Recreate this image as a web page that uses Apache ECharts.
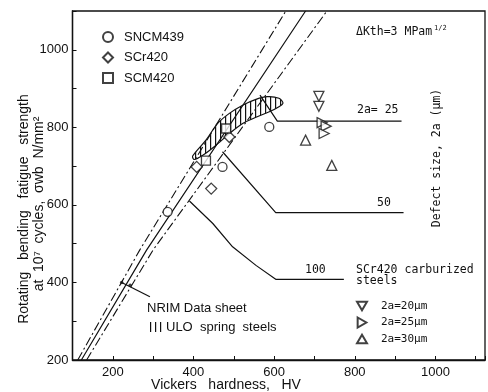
<!DOCTYPE html>
<html>
<head>
<meta charset="utf-8">
<script src="https://cdn.jsdelivr.net/npm/echarts@6/dist/echarts.min.js"></script>
<style>
  html, body { margin: 0; padding: 0; background: #fff; }
  #chart { width: 488px; height: 392px; }
</style>
</head>
<body>
<div id="chart"></div>
<script>
// tick labels
const hvLabels = [200, 400, 600, 800, 1000];
const sigmaLabels = [200, 400, 600, 800, 1000];

// [HV, fatigue strength N/mm2]
const sncm439 = [[336, 582], [472, 698], [588, 801]];
const scr420 = [[408, 698], [444, 642], [489, 775]];
const scm420 = [[431, 714], [481, 797]];
const tri20 = [[711, 880], [711, 854]];
const tri25 = [[719, 812], [729, 803], [724, 784]];
const tri30 = [[678, 767], [743, 702]];

// NRIM data sheet band
const nrimUpper = [[113, 200], [267, 484], [629, 1100]];
const nrimMid = [[122, 200], [284, 484], [678, 1100]];
const nrimLower = [[135, 200], [300, 484], [731, 1100]];
const nrimLeader = [[292, 363], [222, 400]];
const nrimArrows = [[222, 400], [243, 393]];

// defect size curves, SCr420 carburized
const curve25 = [[565, 883], [608, 816], [916, 816]];
const curve50 = [[472, 737], [604, 580], [921, 580]];
const curve100 = [[390, 610], [448, 552], [497, 492], [555, 444], [604, 408], [773, 408]];

// ULO spring steels (hatched area outline)
const uloOutline = [[398, 726], [431, 767], [460, 810], [489, 836], [522, 857], [555, 872], [583, 879],
  [612, 875], [622, 863], [612, 853], [588, 840], [555, 826], [522, 810], [489, 784], [456, 754],
  [423, 728], [402, 717]];

const ink = '#111';
const sans = 'Liberation Sans';
const mono = 'DejaVu Sans Mono';

// vertical hatch pattern
const hatch = document.createElement('canvas');
hatch.width = 5; hatch.height = 5;
const hctx = hatch.getContext('2d');
hctx.fillStyle = ink;
hctx.fillRect(0, 0, 1.2, 5);

const triDown = 'path://M0,0L10,0L5,8.7Z';
const triRight = 'path://M0,0L8.7,5L0,10Z';
const triUp = 'path://M5,0L10,8.7L0,8.7Z';

const myChart = echarts.init(document.getElementById('chart'));

const marker = { color: '#fff', borderColor: ink, borderWidth: 1.3 };
const dashDot = { color: ink, width: 1.1, type: [9, 3, 2, 3] };
const solid = { color: ink, width: 1.2 };

function lineSeries(name, data, style) {
  return { name: name, type: 'line', data: data, symbol: 'none', lineStyle: style, z: 2, silent: true };
}

function txt(text, x, y, font, align, rotation) {
  const el = {
    type: 'text', x: x, y: y,
    style: { text: text, font: font, fill: ink, align: align || 'left', verticalAlign: 'middle',
      textAlign: align || 'left', textVerticalAlign: 'middle' }
  };
  if (rotation) el.rotation = rotation;
  return el;
}

const option = {
  animation: false,
  backgroundColor: '#fff',
  grid: { left: 72.5, right: 1, top: 11, bottom: 32, show: true, borderColor: ink, borderWidth: 1.3 },
  xAxis: {
    type: 'value', min: 100, max: 1123, interval: 100,
    axisLine: { lineStyle: { color: ink, width: 1.3 } },
    axisTick: { inside: true, length: 4, lineStyle: { color: ink } },
    axisLabel: { color: ink, fontFamily: sans, fontSize: 13, margin: 6,
      formatter: v => hvLabels.includes(v) ? String(v) : '' },
    splitLine: { show: false }
  },
  yAxis: {
    type: 'value', min: 200, max: 1100, interval: 100,
    axisLine: { lineStyle: { color: ink, width: 1.3 } },
    axisTick: { inside: true, length: 4, lineStyle: { color: ink } },
    axisLabel: { color: ink, fontFamily: sans, fontSize: 13, margin: 4,
      formatter: v => sigmaLabels.includes(v) ? String(v) : '' },
    splitLine: { show: false }
  },
  legend: [
    {
      orient: 'vertical', left: 102, top: 30, padding: 0, itemWidth: 10, itemHeight: 10, itemGap: 6.5,
      selectedMode: false, data: ['SNCM439', 'SCr420', 'SCM420'],
      textStyle: { color: ink, fontFamily: sans, fontSize: 13, lineHeight: 14, padding: [0, 0, 0, 6] }
    },
    {
      orient: 'vertical', left: 356, top: 300, padding: 0, itemWidth: 10, itemHeight: 10, itemGap: 4.5,
      selectedMode: false, data: ['2a=20μm', '2a=25μm', '2a=30μm'],
      textStyle: { color: ink, fontFamily: mono, fontSize: 11, lineHeight: 12, padding: [0, 0, 0, 9] }
    }
  ],
  graphic: [
    txt('Rotating   bending   fatigue   strength', 24, 209, '14px ' + sans, 'center', Math.PI / 2),
    txt('at  10⁷  cycles,  σwb  N/mm²', 39, 204, '14px ' + sans, 'center', Math.PI / 2),
    txt('Vickers   hardness,   HV', 226, 385, '14px ' + sans, 'center'),
    txt('Defect size, 2a (μm)', 437, 158, '11.5px ' + mono, 'center', Math.PI / 2),
    txt('ΔKth=3 MPam', 356, 32, '11.5px ' + mono),
    txt('1/2', 434, 28, '7px ' + mono),
    txt('2a= 25', 357, 110, '11.5px ' + mono),
    txt('50', 377, 203, '11.5px ' + mono),
    txt('100', 305, 270, '11.5px ' + mono),
    txt('SCr420 carburized', 356, 270.5, '11.5px ' + mono),
    txt('steels', 356, 281, '11.5px ' + mono),
    txt('NRIM Data sheet', 147, 308, '13px ' + sans),
    txt('ULO  spring  steels', 166, 327, '13px ' + sans),
    { type: 'rect', x: 150, y: 322, shape: { width: 13, height: 10 },
      style: { fill: { image: hatch, repeat: 'repeat' } } }
  ],
  series: [
    lineSeries('nrimUpper', nrimUpper, dashDot),
    lineSeries('nrimMid', nrimMid, solid),
    lineSeries('nrimLower', nrimLower, dashDot),
    lineSeries('leader', nrimLeader, solid),
    lineSeries('curve25', curve25, solid),
    lineSeries('curve50', curve50, solid),
    lineSeries('curve100', curve100, solid),
    {
      name: 'arrows', type: 'scatter', data: nrimArrows, symbol: 'circle', symbolSize: 3.5,
      itemStyle: { color: ink }, z: 3, silent: true
    },
    {
      name: 'ULO', type: 'custom', data: uloOutline, z: 3, silent: true,
      encode: { x: 0, y: 1 },
      renderItem: function (params, api) {
        if (params.dataIndex !== 0) return;
        const pts = uloOutline.map(p => api.coord(p));
        return {
          type: 'polygon',
          shape: { points: pts, smooth: 0.3 },
          style: { fill: { image: hatch, repeat: 'repeat' }, stroke: ink, lineWidth: 1.2 }
        };
      }
    },
    { name: 'SNCM439', type: 'scatter', data: sncm439, symbol: 'circle', symbolSize: 9, itemStyle: marker, z: 5 },
    { name: 'SCr420', type: 'scatter', data: scr420, symbol: 'diamond', symbolSize: 11, itemStyle: marker, z: 5 },
    { name: 'SCM420', type: 'scatter', data: scm420, symbol: 'rect', symbolSize: 9, itemStyle: marker, z: 5 },
    { name: '2a=20μm', type: 'scatter', data: tri20, symbol: triDown, symbolSize: 10, itemStyle: marker, z: 5 },
    { name: '2a=25μm', type: 'scatter', data: tri25, symbol: triRight, symbolSize: 10, itemStyle: marker, z: 5 },
    { name: '2a=30μm', type: 'scatter', data: tri30, symbol: triUp, symbolSize: 10, itemStyle: marker, z: 5 }
  ]
};

myChart.setOption(option);
</script>
</body>
</html>
